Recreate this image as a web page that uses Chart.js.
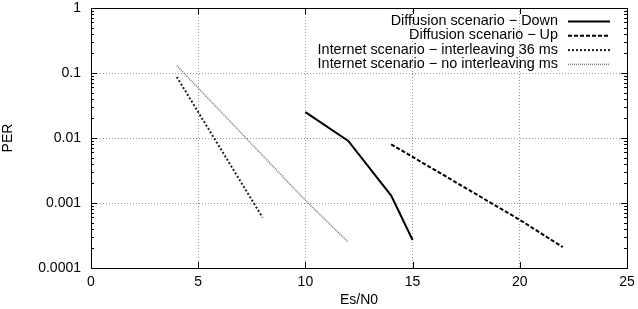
<!DOCTYPE html>
<html>
<head>
<meta charset="utf-8">
<script src="https://cdn.jsdelivr.net/npm/chart.js@4"></script>
<style>
  html, body { margin: 0; padding: 0; background: #fff; }
  #wrap { width: 638px; height: 309px; }
</style>
</head>
<body>
<div id="wrap"><canvas id="perChart" width="638" height="309"></canvas></div>
<script>
// ---- data ----
const esDown = [10, 12, 14, 15];
const perDown = [0.025, 0.009, 0.0013, 0.00027];

const esUp = [14, 20, 22];
const perUp = [0.008, 0.00055, 0.00021];

const esInter36 = [4, 8];
const perInter36 = [0.087, 0.0006];

const esNoInter = [4, 10, 12];
const perNoInter = [0.13, 0.0011, 0.00025];

const yDecades = [0.0001, 0.001, 0.01, 0.1, 1];
const yLabels = ['0.0001', '0.001', '0.01', '0.1', '1'];
const xTicks = [0, 5, 10, 15, 20, 25];

const FONT = "'Liberation Sans', Arial, Helvetica, sans-serif";

function pts(xs, ys) {
  return xs.map((x, i) => ({ x: x, y: ys[i] }));
}

// gnuplot style frame, inward ticks and the legend on the right
const framePlugin = {
  id: 'frame',
  afterDatasetsDraw(chart) {
    const ctx = chart.ctx;
    const a = chart.chartArea;
    const xs = chart.scales.x, ys = chart.scales.y;
    ctx.save();
    ctx.strokeStyle = '#000';
    ctx.lineWidth = 1;
    ctx.setLineDash([]);
    ctx.beginPath();
    // x ticks top and bottom
    xTicks.forEach(v => {
      const px = Math.round(xs.getPixelForValue(v)) + 0.5;
      ctx.moveTo(px, a.bottom); ctx.lineTo(px, a.bottom - 6);
      ctx.moveTo(px, a.top); ctx.lineTo(px, a.top + 6);
    });
    // y ticks, major and minor, left and right
    yDecades.forEach((d, i) => {
      const py = Math.round(ys.getPixelForValue(d)) + 0.5;
      ctx.moveTo(a.left, py); ctx.lineTo(a.left + 6, py);
      ctx.moveTo(a.right, py); ctx.lineTo(a.right - 6, py);
      if (i < yDecades.length - 1) {
        for (let m = 2; m <= 9; m++) {
          const pm = Math.round(ys.getPixelForValue(d * m)) + 0.5;
          ctx.moveTo(a.left, pm); ctx.lineTo(a.left + 3, pm);
          ctx.moveTo(a.right, pm); ctx.lineTo(a.right - 3, pm);
        }
      }
    });
    ctx.stroke();
    ctx.strokeRect(Math.round(a.left) + 0.5, Math.round(a.top) + 0.5,
                   Math.round(a.right - a.left), Math.round(a.bottom - a.top));

    // legend
    ctx.font = '14.4px ' + FONT;
    ctx.fillStyle = '#000';
    ctx.textAlign = 'right';
    ctx.textBaseline = 'middle';
    chart.data.datasets.forEach((ds, i) => {
      const y = a.top + 13 + i * 14.3;
      ctx.fillText(ds.label, a.right - 69, y);
      ctx.beginPath();
      ctx.strokeStyle = ds.borderColor;
      ctx.lineWidth = ds.borderWidth;
      ctx.setLineDash(ds.borderDash || []);
      ctx.moveTo(a.right - 59, y + 0.5);
      ctx.lineTo(a.right - 17, y + 0.5);
      ctx.stroke();
    });
    ctx.restore();
  }
};

new Chart(document.getElementById('perChart'), {
  type: 'scatter',
  data: {
    datasets: [
      { label: 'Diffusion scenario \u2212 Down', data: pts(esDown, perDown),
        borderColor: '#000', borderWidth: 2, borderDash: [] },
      { label: 'Diffusion scenario \u2212 Up', data: pts(esUp, perUp),
        borderColor: '#000', borderWidth: 2, borderDash: [4, 2] },
      { label: 'Internet scenario \u2212 interleaving 36 ms', data: pts(esInter36, perInter36),
        borderColor: '#222', borderWidth: 2, borderDash: [2, 2] },
      { label: 'Internet scenario \u2212 no interleaving ms', data: pts(esNoInter, perNoInter),
        borderColor: '#777', borderWidth: 1.5, borderDash: [1, 1] }
    ].map(d => Object.assign(d, { showLine: true, pointRadius: 0, fill: false, tension: 0 }))
  },
  options: {
    responsive: false,
    animation: false,
    layout: { padding: { top: 8, right: 11, left: 0, bottom: 0 } },
    plugins: { legend: { display: false }, tooltip: { enabled: false } },
    scales: {
      x: {
        type: 'linear', min: 0, max: 25,
        afterBuildTicks: s => { s.ticks = xTicks.map(v => ({ value: v })); },
        afterFit: s => { s.height = 41; s.paddingLeft = 0; s.paddingRight = 0; },
        grid: { color: '#999', lineWidth: 1, drawTicks: false },
        border: { display: false, dash: [1, 2] },
        ticks: { color: '#000', padding: 6, font: { family: FONT, size: 14 } },
        title: { display: true, text: 'Es/N0', color: '#000', padding: { top: 2, bottom: 0 },
                 font: { family: FONT, size: 14 } }
      },
      y: {
        type: 'logarithmic', min: 0.0001, max: 1,
        afterBuildTicks: s => { s.ticks = yDecades.map(v => ({ value: v })); },
        afterFit: s => { s.width = 91; s.paddingTop = 0; s.paddingBottom = 0; },
        grid: { color: '#999', lineWidth: 1, drawTicks: false },
        border: { display: false, dash: [1, 2] },
        ticks: {
          color: '#000', padding: 10, font: { family: FONT, size: 14 },
          callback: v => { const i = yDecades.indexOf(v); return i >= 0 ? yLabels[i] : ''; }
        },
        title: { display: true, text: 'PER', color: '#000', padding: { top: 0, bottom: 0 },
                 font: { family: FONT, size: 14 } }
      }
    }
  },
  plugins: [framePlugin]
});
</script>
</body>
</html>
